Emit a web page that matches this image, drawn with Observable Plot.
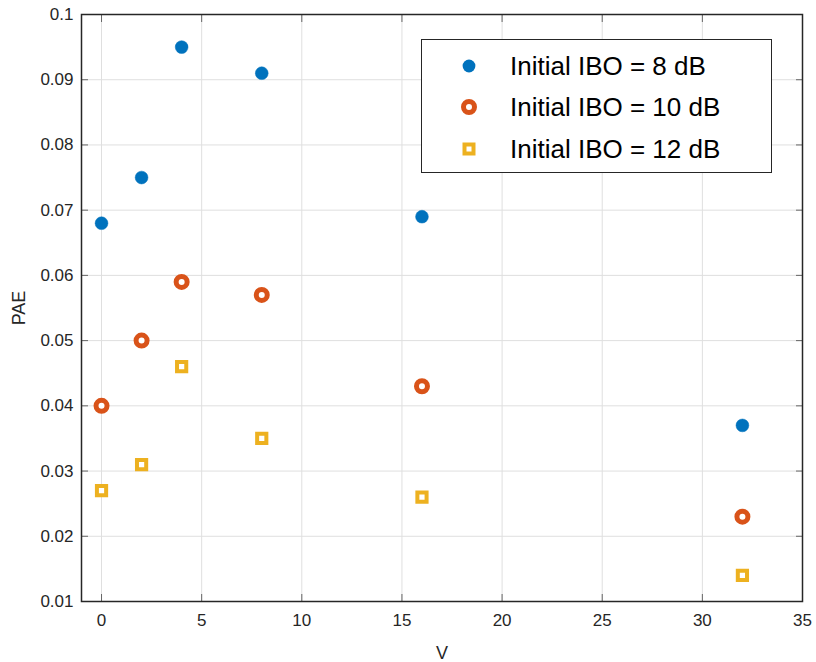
<!DOCTYPE html>
<html>
<head>
<meta charset="utf-8">
<script src="https://cdn.jsdelivr.net/npm/d3@7"></script>
<script src="https://cdn.jsdelivr.net/npm/@observablehq/plot@0.6"></script>
<style>
  html, body { margin: 0; padding: 0; background: #fff; }
  #wrap { position: relative; width: 816px; height: 662px; font-family: "Liberation Sans", Arial, Helvetica, sans-serif; }
  #legend { position: absolute; left: 421px; top: 39px; width: 349px; height: 132px; border: 1px solid #262626; background: #fff; }
  .row { position: absolute; left: 0; height: 30px; display: flex; align-items: center; }
  .row svg { position: absolute; left: 32px; }
  .row span { position: absolute; left: 88px; white-space: nowrap; font-size: 26px; color: #000; }
</style>
</head>
<body>
<div id="wrap"></div>
<script>
const V = [0, 2, 4, 8, 16, 32];
const pae8 = [0.068, 0.075, 0.095, 0.091, 0.069, 0.037];
const pae10 = [0.040, 0.050, 0.059, 0.057, 0.043, 0.023];
const pae12 = [0.027, 0.031, 0.046, 0.035, 0.026, 0.014];
const seriesNames = ["Initial IBO = 8 dB", "Initial IBO = 10 dB", "Initial IBO = 12 dB"];
const xTicks = [0, 5, 10, 15, 20, 25, 30, 35];
const yTicks = [0.01, 0.02, 0.03, 0.04, 0.05, 0.06, 0.07, 0.08, 0.09, 0.1];

const colors = ["#0072BD", "#D95319", "#EDB120"];
const d8 = V.map((v, i) => ({v, p: pae8[i]}));
const d10 = V.map((v, i) => ({v, p: pae10[i]}));
const d12 = V.map((v, i) => ({v, p: pae12[i]}));

const axisColor = "#262626";
const chart = Plot.plot({
  width: 816,
  height: 662,
  marginLeft: 81,
  marginRight: 14,
  marginTop: 14,
  marginBottom: 61,
  style: { fontFamily: "Liberation Sans, Arial, Helvetica, sans-serif", fontSize: "17px", color: axisColor, background: "#fff" },
  x: { domain: [-1, 35] },
  y: { domain: [0.01, 0.1] },
  marks: [
    Plot.gridX(xTicks, { stroke: "#dfdfdf", strokeOpacity: 1 }),
    Plot.gridY(yTicks, { stroke: "#dfdfdf", strokeOpacity: 1 }),
    Plot.axisX(xTicks, { tickSize: 0, tickPadding: 12, fontSize: 17, label: null }),
    Plot.axisX({ ticks: [], tickSize: 0, label: "V", labelAnchor: "center", labelOffset: 57, labelArrow: "none", fontSize: 18 }),
    Plot.axisX(xTicks, { tickSize: -7, tickFormat: () => "", label: null, stroke: "#666" }),
    Plot.axisX(xTicks, { anchor: "top", tickSize: -7, tickFormat: () => "", label: null, stroke: "#666" }),
    Plot.axisY(yTicks, { tickSize: 0, tickPadding: 8, fontSize: 17, tickFormat: d => String(+d.toFixed(2)), label: null }),
    Plot.axisY({ ticks: [], tickSize: 0, label: "PAE", labelAnchor: "center", labelOffset: 69, labelArrow: "none", fontSize: 18 }),
    Plot.axisY(yTicks, { tickSize: -7, tickFormat: () => "", label: null, stroke: "#666" }),
    Plot.axisY(yTicks, { anchor: "right", tickSize: -7, tickFormat: () => "", label: null, stroke: "#666" }),
    Plot.frame({ stroke: axisColor, strokeWidth: 1.5 }),
    Plot.dot(d8, { x: "v", y: "p", r: 6.4, fill: colors[0], stroke: colors[0], strokeWidth: 0.5 }),
    Plot.dot(d10, { x: "v", y: "p", r: 5.5, fill: "#fff", stroke: colors[1], strokeWidth: 5 }),
    Plot.dot(d12, { x: "v", y: "p", symbol: "square", r: 5.2, fill: "#fff", stroke: colors[2], strokeWidth: 4 })
  ]
});
chart.style.position = "absolute";
chart.style.left = "0px";
chart.style.top = "0px";
const wrap = document.getElementById("wrap");
wrap.appendChild(chart);

const legend = document.createElement("div");
legend.id = "legend";
const markerSvgs = [
  `<svg width="30" height="30"><circle cx="15" cy="15" r="6.4" fill="${colors[0]}"/></svg>`,
  `<svg width="30" height="30"><circle cx="15" cy="15" r="5.5" fill="#fff" stroke="${colors[1]}" stroke-width="5"/></svg>`,
  `<svg width="30" height="30"><rect x="10.5" y="10.5" width="9" height="9" fill="#fff" stroke="${colors[2]}" stroke-width="4"/></svg>`
];
const rowTops = [11, 52, 94];
seriesNames.forEach((name, i) => {
  const row = document.createElement("div");
  row.className = "row";
  row.style.top = rowTops[i] + "px";
  row.innerHTML = markerSvgs[i] + `<span>${name}</span>`;
  legend.appendChild(row);
});
wrap.appendChild(legend);
</script>
</body>
</html>
